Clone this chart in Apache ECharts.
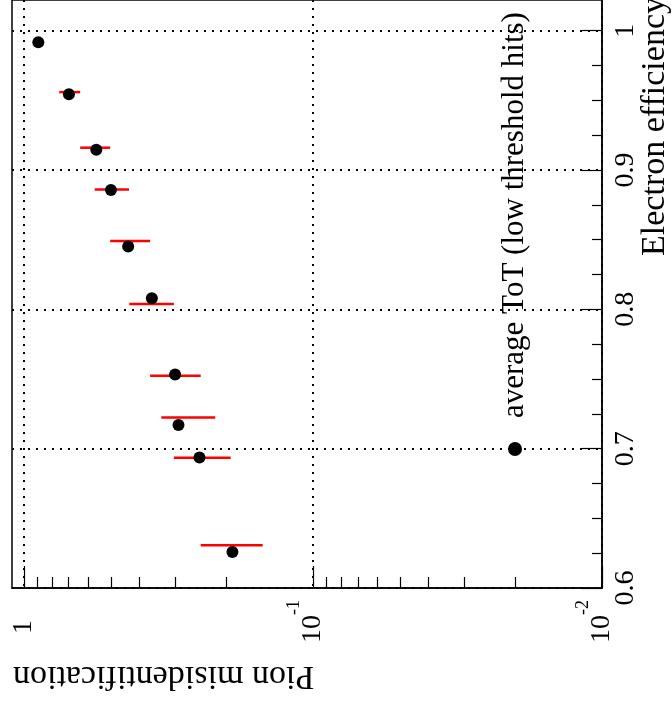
<!DOCTYPE html>
<html><head><meta charset="utf-8">
<script src="https://cdn.jsdelivr.net/npm/echarts@6/dist/echarts.min.js"></script>
<style>html,body{margin:0;padding:0;background:#fff;} #c{width:672px;height:707px;}</style>
</head><body><div id="c"></div>
<script>
// Data (electron efficiency vs pion misidentification)
const efficiency = [0.9917, 0.9544, 0.9146, 0.8856, 0.8451, 0.8080, 0.7532, 0.7169, 0.6937, 0.6258];
const pionMisid  = [0.892, 0.699, 0.562, 0.500, 0.436, 0.361, 0.300, 0.292, 0.247, 0.190];
const errEff  = [0.9917, 0.9559, 0.9160, 0.8860, 0.8491, 0.8038, 0.7523, 0.7224, 0.6934, 0.6306];
const errLow  = [0.870, 0.639, 0.503, 0.433, 0.366, 0.303, 0.2446, 0.2178, 0.1927, 0.1493];
const errHigh = [0.915, 0.755, 0.639, 0.569, 0.503, 0.432, 0.366, 0.3348, 0.303, 0.2446];
const effTicks = [0.6, 0.7, 0.8, 0.9, 1.0];
const effMinorTicks = [0.625, 0.65, 0.675, 0.725, 0.75, 0.775, 0.825, 0.85, 0.875, 0.925, 0.95, 0.975];
const pionTicks = [0.01, 0.1, 1];
const pionMinorTicks = [0.02, 0.03, 0.04, 0.05, 0.06, 0.07, 0.08, 0.09, 0.2, 0.3, 0.4, 0.5, 0.6, 0.7, 0.8, 0.9];
const xTitle = 'Electron efficiency';
const yTitle = 'Pion misidentification';
const legendLabel = 'average ToT (low threshold hits)';

const FONT = 'Liberation Serif';
const chart = echarts.init(document.getElementById('c'), null, {renderer: 'canvas'});

const dotted = {color: '#000', type: [2, 6], width: 2};
const PMIN = 0.01, PMAX = 1.1, EMIN = 0.6, EMAX = 1.022;

function pionLabel(v) {
  const e = Math.round(Math.log10(v));
  if (e === 0) return '{one|1}';
  return '{b|10}{sup|' + e + '}';
}

const option = {
  animation: false,
  backgroundColor: '#fff',
  grid: {left: 12, right: 70, top: -5, bottom: 119, show: true, borderColor: '#000', borderWidth: 1.5, backgroundColor: 'transparent'},
  xAxis: [
    {
      type: 'log', logBase: 10, min: PMIN, max: PMAX, inverse: true, position: 'bottom', offset: 0,
      axisLine: {show: true, lineStyle: {color: '#000', width: 1.5}},
      axisTick: {show: true, inside: true, length: 22, customValues: pionTicks, lineStyle: {color: '#000', width: 1.2}},
      axisLabel: {
        show: true, customValues: pionTicks, rotate: 90, margin: 12, color: '#000',
        fontFamily: FONT, fontSize: 28, formatter: pionLabel,
        rich: {
          one: {fontFamily: FONT, fontSize: 28, lineHeight: 28, padding: [0, 20, 0, 0], color: '#000'},
          b: {fontFamily: FONT, fontSize: 28, lineHeight: 28, padding: [20, 0, 20, 0], color: '#000'},
          sup: {fontFamily: FONT, fontSize: 18, lineHeight: 18, padding: [6, 0, 44, 0], color: '#000'}
        }
      },
      splitLine: {show: true, lineStyle: dotted}
    },
    {
      type: 'log', logBase: 10, min: PMIN, max: PMAX, inverse: true, position: 'bottom', offset: 0,
      axisLine: {show: false},
      axisTick: {show: true, inside: true, length: 11, customValues: pionMinorTicks, lineStyle: {color: '#000', width: 1.2}},
      axisLabel: {show: false},
      splitLine: {show: false}
    }
  ],
  yAxis: [
    {
      type: 'value', min: EMIN, max: EMAX, interval: 0.1, position: 'right', offset: 0,
      axisLine: {show: true, lineStyle: {color: '#000', width: 1.5}},
      axisTick: {show: true, inside: true, length: 20, customValues: effTicks, lineStyle: {color: '#000', width: 1.2}},
      axisLabel: {
        show: true, customValues: effTicks, rotate: 90, margin: 10, color: '#000',
        fontFamily: FONT, fontSize: 28,
        formatter: v => String(Math.round(v * 10) / 10)
      },
      splitLine: {show: true, lineStyle: dotted}
    },
    {
      type: 'value', min: EMIN, max: EMAX, interval: 0.1, position: 'right', offset: 0,
      axisLine: {show: false},
      axisTick: {show: true, inside: true, length: 10, customValues: effMinorTicks, lineStyle: {color: '#000', width: 1.2}},
      axisLabel: {show: false},
      splitLine: {show: false}
    }
  ],
  series: [
    {
      type: 'custom', xAxisIndex: 0, yAxisIndex: 0, z: 2,
      data: errEff.map((e, i) => [errLow[i], errHigh[i], e]),
      encode: {x: [0, 1], y: 2},
      renderItem: function (params, api) {
        const a = api.coord([api.value(0), api.value(2)]);
        const b = api.coord([api.value(1), api.value(2)]);
        return {type: 'line', shape: {x1: a[0], y1: a[1], x2: b[0], y2: b[1]},
                style: {stroke: '#ff0000', lineWidth: 2.5}};
      }
    },
    {
      type: 'scatter', name: legendLabel, xAxisIndex: 0, yAxisIndex: 0, z: 3,
      symbol: 'circle', symbolSize: 12,
      itemStyle: {color: '#000', opacity: 1},
      emphasis: {disabled: true},
      data: efficiency.map((e, i) => [pionMisid[i], e])
    }
  ],
  graphic: [
    {type: 'text', x: 655, y: -3, rotation: Math.PI / 2, silent: true,
     style: {text: xTitle, fontFamily: FONT, fontSize: 34, fill: '#000', align: 'right', verticalAlign: 'middle'}},
    {type: 'text', x: 13, y: 676, rotation: Math.PI, silent: true,
     style: {text: yTitle, fontFamily: FONT, fontSize: 34, fill: '#000', align: 'right', verticalAlign: 'middle'}},
    {type: 'circle', shape: {cx: 515, cy: 449, r: 7}, style: {fill: '#000'}, silent: true, z: 10},
    {type: 'text', x: 515, y: 418, rotation: Math.PI / 2, silent: true,
     style: {text: legendLabel, fontFamily: FONT, fontSize: 31, fill: '#000', align: 'left', verticalAlign: 'middle'}}
  ]
};
chart.setOption(option);
</script></body></html>
